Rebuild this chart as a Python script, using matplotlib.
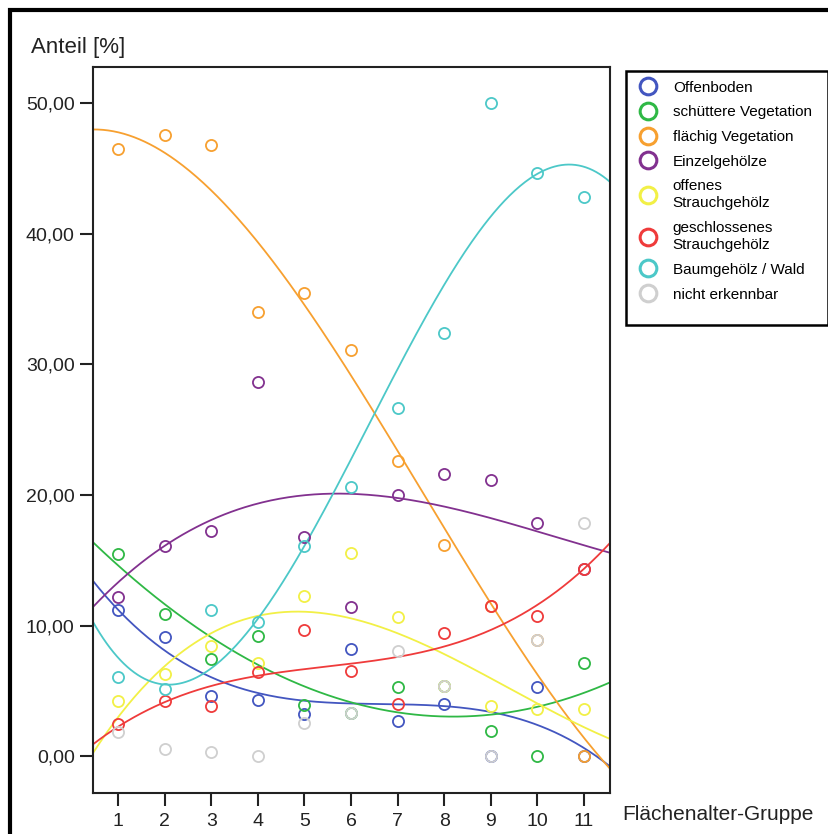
import numpy as np
import matplotlib
matplotlib.use("Agg")
import matplotlib.pyplot as plt
from matplotlib.lines import Line2D
from matplotlib.patches import Rectangle
from matplotlib.ticker import FuncFormatter

plt.rcParams['font.family'] = ['Liberation Sans', 'DejaVu Sans']

# Flächenalter-Gruppen
gruppen = np.arange(1, 12)

# Anteile [%] je Gruppe
offenboden = [11.2, 9.1, 4.6, 4.3, 3.2, 8.2, 2.7, 4.0, 0.0, 5.3, 0.0]
schuettere_veg = [15.5, 10.9, 7.4, 9.2, 3.9, 3.3, 5.3, 5.4, 1.9, 0.0, 7.15]
flaechig_veg = [46.5, 47.6, 46.8, 34.05, 35.45, 31.1, 22.6, 16.2, 11.5, 8.9, 0.0]
einzelgehoelze = [12.2, 16.1, 17.24, 28.66, 16.8, 11.44, 20.0, 21.6, 21.15, 17.88, 14.3]
offenes_strauch = [4.24, 6.28, 8.45, 7.15, 12.26, 15.58, 10.68, 5.36, 3.86, 3.58, 3.58]
geschl_strauch = [2.43, 4.24, 3.86, 6.46, 9.66, 6.54, 3.98, 9.45, 11.52, 10.73, 14.3]
baumgehoelz = [6.08, 5.13, 11.2, 10.24, 16.12, 20.59, 26.64, 32.4, 50.0, 44.7, 42.8]
nicht_erkennbar = [1.86, 0.54, 0.33, 0.0, 2.55, 3.27, 8.02, 5.36, 0.0, 8.89, 17.88]

namen = ['Offenboden', 'schüttere Vegetation', 'flächig Vegetation', 'Einzelgehölze',
         'offenes\nStrauchgehölz', 'geschlossenes\nStrauchgehölz', 'Baumgehölz / Wald',
         'nicht erkennbar']
reihen = [offenboden, schuettere_veg, flaechig_veg, einzelgehoelze,
          offenes_strauch, geschl_strauch, baumgehoelz, nicht_erkennbar]
farben = ['#4356c0', '#2fb845', '#f7a030', '#82318f', '#f2f046', '#ef3b3b', '#4cc8c8', '#cfcfcf']
mit_kurve = [True, True, True, True, True, True, True, False]

W, H = 829, 834
fig = plt.figure(figsize=(W / 100, H / 100), dpi=100)

# Achsenbereich in Pixeln
links, rechts, oben, unten = 92.7, 610, 67.3, 792.7
ax = fig.add_axes([links / W, 1 - unten / H, (rechts - links) / W, (unten - oben) / H])

xmin, xmax = 0.457, 11.56
ymin, ymax = -2.81, 52.77
xs = np.linspace(xmin, xmax, 300)

for werte, farbe, kurve in zip(reihen, farben, mit_kurve):
    ax.plot(gruppen, werte, 'o', mfc='none', mec=farbe, ms=8, mew=1.3, zorder=3)
    if kurve:
        # kubische Anpassung wie in SPSS
        koeff = np.polyfit(gruppen, werte, 3)
        ax.plot(xs, np.polyval(koeff, xs), '-', color=farbe, lw=1.3, zorder=2)

ax.set_xlim(xmin, xmax)
ax.set_ylim(ymin, ymax)
ax.set_xticks(gruppen)
ax.set_yticks([0, 10, 20, 30, 40, 50])
ax.yaxis.set_major_formatter(FuncFormatter(lambda v, p: f"{v:.2f}".replace('.', ',')))
ax.tick_params(axis='both', length=9.5, width=1.5, colors='#222222', labelsize=14)
ax.tick_params(axis='x', pad=5)
ax.tick_params(axis='y', pad=3.5)
ax.tick_params(top=False, right=False)
for s in ax.spines.values():
    s.set_linewidth(1.5)
    s.set_color('#222222')

fig.text(30.7 / W, 1 - 47.7 / H, 'Anteil [%]', fontsize=16, ha='left', va='center', color='#222222')
fig.text(622.7 / W, 1 - 814 / H, 'Flächenalter-Gruppe', fontsize=15, ha='left', va='center', color='#222222')

# Legende
handles = [Line2D([], [], ls='none', marker='o', mfc='none', mec=f, ms=12, mew=2.2) for f in farben]
leg = ax.legend(handles, namen, loc='upper left', bbox_to_anchor=(640.7 / W, 1 - 80.5 / H),
                bbox_transform=fig.transFigure, frameon=False, fontsize=11, borderpad=0,
                borderaxespad=0, handlelength=1.0, handletextpad=1.1, labelspacing=0.7)
for t in leg.get_texts():
    t.set_linespacing(1.28)
fig.patches.append(Rectangle((626 / W, 1 - 325 / H), (828 - 626) / W, (325 - 71) / H,
                             transform=fig.transFigure, fill=False, ec='black', lw=1.8))

# äußerer Rahmen
fig.patches.append(Rectangle((10 / W, -0.2), 1.2, 1 - 10 / H + 0.2, transform=fig.transFigure,
                             fill=False, ec='black', lw=3))

fig.savefig('out.png', dpi=100)
